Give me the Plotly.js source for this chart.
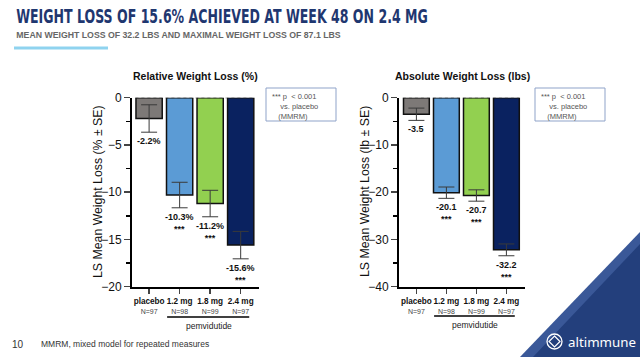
<!DOCTYPE html>
<html><head><meta charset="utf-8">
<script src="https://cdn.plot.ly/plotly-3.0.1.min.js"></script>
<style>html,body{margin:0;padding:0;background:#fff;}#chart{width:640px;height:357px;}</style>
</head><body><div id="chart"></div>
<script>
const categories = ['placebo', '1.2 mg', '1.8 mg', '2.4 mg'];
const nCounts = ['N=97', 'N=98', 'N=99', 'N=97'];
const relValues = [-2.2, -10.3, -11.2, -15.6];
const relSE = [1.45, 1.35, 1.4, 1.45];
const absValues = [-3.5, -20.1, -20.7, -32.2];
const absSE = [1.3, 1.2, 1.2, 1.25];
const sigStars = ['', '***', '***', '***'];
const barColors = ['#7d7977', '#5b9bd5', '#92d050', '#0a2260'];

const W = 640, H = 357;
const px = x => x / W;
const py = y => 1 - y / H;
const xpos = categories.map((c, i) => i);
const ticktext = categories.map((c, i) => '<b>' + c + '</b><br><span style="font-size:7px;color:#444">' + nCounts[i] + '</span>');
const FONT = 'Arial, "Liberation Sans", sans-serif';

function barTrace(vals, se, xa, ya) {
  return {
    type: 'bar', x: xpos, y: vals, xaxis: xa, yaxis: ya, width: 0.86,
    marker: {color: barColors, line: {color: '#111', width: 1.5}},
    error_y: {type: 'data', array: se, visible: true, color: '#3a3a3a', thickness: 1, width: 8},
    hoverinfo: 'skip', showlegend: false
  };
}

const data = [barTrace(relValues, relSE, 'x', 'y'), barTrace(absValues, absSE, 'x2', 'y2')];

function xaxis(dom, rng, anchor) {
  return {domain: dom, range: rng, anchor: anchor, tickvals: xpos, ticktext: ticktext, tickangle: 0, ticks: 'outside', ticklen: 5, tickwidth: 1.5,
    showline: true, linecolor: '#000', linewidth: 2, showgrid: false, zeroline: false, fixedrange: true,
    tickfont: {family: FONT, size: 8.2, color: '#111'}};
}
function yaxis(dom, rng, dt, anchor) {
  return {domain: dom, range: rng, dtick: dt, ticks: 'outside', ticklen: 6, tickwidth: 1.5, anchor: anchor,
    minor: {ticks: 'outside', dtick: dt / 2, ticklen: 4, tickwidth: 1.5, tickcolor: '#000'},
    showline: true, linecolor: '#000', linewidth: 2, showgrid: false, zeroline: false,
    tickfont: {family: FONT, size: 12, color: '#111'}};
}

const ann = [];
const shapes = [];
function addValueLabels(vals, se, xr, yr, suffix) {
  vals.forEach((v, i) => {
    const txt = '<b>' + v.toFixed(1) + suffix + '</b>' + (sigStars[i] ? '<br><b>' + sigStars[i] + '</b>' : '');
    ann.push({xref: xr, yref: yr, x: xpos[i], y: v - se[i], yanchor: 'top', yshift: -2, showarrow: false,
      text: txt, font: {family: FONT, size: 9, color: '#111'}});
  });
}
addValueLabels(relValues, relSE, 'x', 'y', '%');
addValueLabels(absValues, absSE, 'x2', 'y2', '');

// y-axis titles
ann.push({xref: 'paper', yref: 'paper', x: px(98), y: py(192), xanchor: 'center', yanchor: 'middle', textangle: -90, showarrow: false,
  text: 'LS Mean Weight Loss (% ± SE)', font: {family: FONT, size: 12.3, color: '#111'}});
ann.push({xref: 'paper', yref: 'paper', x: px(365), y: py(192), xanchor: 'center', yanchor: 'middle', textangle: -90, showarrow: false,
  text: 'LS Mean Weight Loss (lb ± SE)', font: {family: FONT, size: 12.3, color: '#111'}});

// chart titles
ann.push({xref: 'x domain', yref: 'paper', x: 0.5, y: py(76), xanchor: 'center', yanchor: 'middle', text: '<b>Relative Weight Loss (%)</b>', showarrow: false, font: {family: FONT, size: 10.5, color: '#111'}});
ann.push({xref: 'x2 domain', yref: 'paper', x: 0.5, y: py(76), xanchor: 'center', yanchor: 'middle', text: '<b>Absolute Weight Loss (lbs)</b>', showarrow: false, font: {family: FONT, size: 10.5, color: '#111'}});

// pemvidutide group
[['x', 317], ['x2', 316]].forEach(([xr, yy]) => {
  shapes.push({type: 'line', xref: xr, yref: 'paper', x0: 0.59, x1: 3.28, y0: py(yy), y1: py(yy), line: {color: '#000', width: 1.5}});
  ann.push({xref: xr, yref: 'paper', x: 1.95, y: py(yy + 9), xanchor: 'center', yanchor: 'middle', text: 'pemvidutide', showarrow: false, font: {family: FONT, size: 8.5, color: '#222'}});
});

// dotted zero lines
shapes.push({type: 'line', xref: 'x', yref: 'y', x0: -0.45, x1: 3.43, y0: 0, y1: 0, line: {color: '#333', width: 1, dash: 'dot'}, layer: 'above'});
shapes.push({type: 'line', xref: 'x2', yref: 'y2', x0: -0.45, x1: 3.43, y0: 0, y1: 0, line: {color: '#333', width: 1, dash: 'dot'}, layer: 'above'});

// significance boxes
const boxTxt = '***&nbsp;p&nbsp;&nbsp;&lt; 0.001<br>&nbsp;&nbsp;&nbsp;&nbsp;vs. placebo<br>&nbsp;&nbsp;&nbsp;(MMRM)';
[[266, 336], [535, 605]].forEach(([x0, x1]) => {
  shapes.push({type: 'rect', xref: 'paper', yref: 'paper', x0: px(x0), x1: px(x1), y0: py(121), y1: py(88), line: {color: '#8fa3c9', width: 1}, fillcolor: 'rgba(0,0,0,0)'});
  ann.push({xref: 'paper', yref: 'paper', x: px(x0 + 4), y: py(90), xanchor: 'left', yanchor: 'top', align: 'left', showarrow: false,
    text: boxTxt, font: {family: FONT, size: 7.5, color: '#555555'}});
});

// header
ann.push({xref: 'paper', yref: 'paper', x: px(14), y: py(16), xanchor: 'left', yanchor: 'middle', showarrow: false,
  text: '<b>WEIGHT LOSS OF 15.6% ACHIEVED AT WEEK 48 ON 2.4 MG</b>', font: {family: '"DejaVu Sans Condensed", "DejaVu Sans", Arial, sans-serif', size: 20, color: '#1f3770'}});
ann.push({xref: 'paper', yref: 'paper', x: px(14), y: py(35), xanchor: 'left', yanchor: 'middle', showarrow: false,
  text: '<b>MEAN WEIGHT LOSS OF 32.2 LBS AND MAXIMAL WEIGHT LOSS OF 87.1 LBS</b>', font: {family: FONT, size: 9.5, color: '#666'}});
shapes.push({type: 'line', xref: 'paper', yref: 'paper', x0: px(14), x1: px(108), y0: py(48), y1: py(48), line: {color: '#8fd3ef', width: 3}});

// footer
ann.push({xref: 'paper', yref: 'paper', x: px(10), y: py(344), xanchor: 'left', yanchor: 'middle', showarrow: false,
  text: '10', font: {family: FONT, size: 10, color: '#333'}});
ann.push({xref: 'paper', yref: 'paper', x: px(39), y: py(344), xanchor: 'left', yanchor: 'middle', showarrow: false,
  text: 'MMRM, mixed model for repeated measures', font: {family: FONT, size: 8.5, color: '#333'}});

// corner triangle + logo
shapes.push({type: 'path', xref: 'paper', yref: 'paper', path: `M ${px(640)} ${py(232)} L ${px(640)} ${py(357)} L ${px(520)} ${py(357)} Z`, fillcolor: '#3a5898', line: {width: 0}, layer: 'below'});
shapes.push({type: 'path', xref: 'paper', yref: 'paper', path: `M ${px(640)} ${py(244)} L ${px(640)} ${py(357)} L ${px(533)} ${py(357)} Z`, fillcolor: '#233f7c', line: {width: 0}, layer: 'below'});
shapes.push({type: 'circle', xref: 'paper', yref: 'paper', x0: px(547), x1: px(562), y0: py(349), y1: py(334), line: {color: '#fff', width: 1.3}});
shapes.push({type: 'path', xref: 'paper', yref: 'paper', path: `M ${px(554.5)} ${py(336)} L ${px(560)} ${py(341.5)} L ${px(554.5)} ${py(347)} L ${px(549)} ${py(341.5)} Z`, line: {color: '#fff', width: 1.2}});
ann.push({xref: 'paper', yref: 'paper', x: px(566), y: py(342), xanchor: 'left', yanchor: 'middle', showarrow: false,
  text: 'altimmune', font: {family: '"Noto Sans", Arial, sans-serif', size: 13, color: '#fff'}});

const layout = {
  width: W, height: H, margin: {l: 0, r: 0, t: 0, b: 0},
  paper_bgcolor: '#fff', plot_bgcolor: 'rgba(0,0,0,0)',
  xaxis: xaxis([px(132), px(259)], [-0.56, 3.6], 'y'),
  yaxis: yaxis([py(286.7), py(97.7)], [-20, 0], 5, 'x'),
  xaxis2: xaxis([px(399), px(525)], [-0.58, 3.62], 'y2'),
  yaxis2: yaxis([py(286.7), py(97.7)], [-40, 0], 10, 'x2'),
  bargap: 0.1, annotations: ann, shapes: shapes, showlegend: false
};

// horizontally condense texts to the reference widths (texts stay real SVG text)
const fitWidths = {'WEIGHT LOSS OF': 412, 'MEAN WEIGHT LOSS': 325, 'altimmune': 68};
Plotly.newPlot('chart', data, layout, {displayModeBar: false, staticPlot: true}).then(gd => {
  gd.querySelectorAll('.annotation-text').forEach(t => {
    for (const key in fitWidths) {
      if (t.textContent.startsWith(key)) {
        const bb = t.getBBox();
        const s = fitWidths[key] / bb.width;
        t.setAttribute('transform', `translate(${bb.x},0) scale(${s},1) translate(${-bb.x},0)`);
      }
    }
  });
});
</script></body></html>
